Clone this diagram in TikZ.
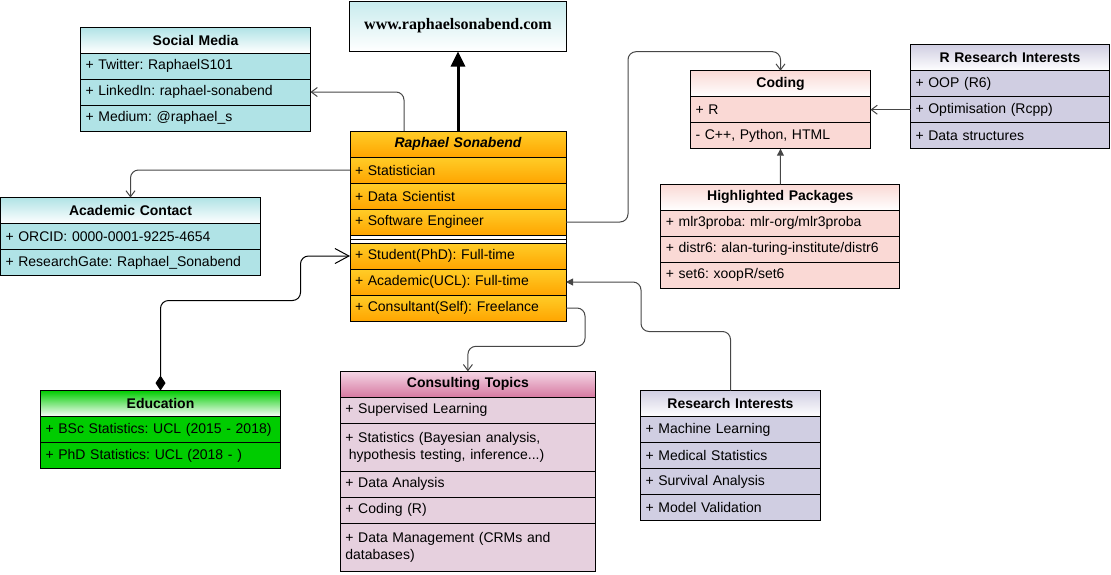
\documentclass[tikz,border=0pt]{standalone}
\usepackage{fontspec}
\setmainfont{Liberation Sans}
\newfontfamily\webfont{Liberation Serif}
\usetikzlibrary{positioning,arrows.meta}
\definecolor{tealc}{RGB}{176,227,230}
\definecolor{gold}{RGB}{255,205,40}
\definecolor{orangec}{RGB}{255,165,0}
\definecolor{pinkc}{RGB}{250,217,213}
\definecolor{lavc}{RGB}{208,206,226}
\definecolor{greenc}{RGB}{0,204,0}
\definecolor{consrow}{RGB}{230,208,222}
\definecolor{conslight}{RGB}{244,214,229}
\definecolor{consdark}{RGB}{214,120,160}
\definecolor{linkc}{RGB}{70,70,70}
\newcommand{\boxfont}{\fontsize{14}{16.5}\selectfont\frenchspacing}

\begin{document}
\begin{tikzpicture}[x=1pt, y=1pt,
    head/.style={rectangle, draw, line width=1pt, outer sep=0pt, inner xsep=5pt, inner ysep=2pt, minimum height=26pt, align=center, font=\boxfont\bfseries, top color=#1, bottom color=white},
    row/.style={rectangle, draw, line width=1pt, outer sep=0pt, inner xsep=5pt, inner ysep=2pt, minimum height=26pt, align=left, font=\boxfont, fill=#1},
    row/.default=white,
    orow/.style={row, top color=gold, bottom color=orangec},
    link/.style={draw=linkc, line width=1pt, rounded corners=8pt, -{Straight Barb[length=6pt, width=9pt]}},
    solid link/.style={draw=linkc, line width=1pt, rounded corners=8pt, -{Triangle[length=7pt, width=7pt]}},
    bold/.style={draw=black, line width=3pt, -{Triangle[length=15pt, width=14pt]}}]

\useasboundingbox (0,0) rectangle (1111,-574);

% website
\node[draw, line width=1pt, top color=tealc!70, bottom color=white, minimum width=217pt, minimum height=50pt, anchor=north west, font=\webfont\fontsize{16}{19}\selectfont\bfseries] (web) at (349,-0.5) {www.raphaelsonabend.com};

% social media
\begin{scope}[every node/.append style={text width=220pt}]
\node[head=tealc, anchor=north west] (social) at (80.5,-27) {Social Media};
\node[row=tealc, below=0pt of social] (social_tw) {+ Twitter: RaphaelS101};
\node[row=tealc, below=0pt of social_tw] (social_li) {+ LinkedIn: raphael-sonabend};
\node[row=tealc, below=0pt of social_li] (social_md) {+ Medium: @raphael\_s};
\end{scope}

% academic contact
\begin{scope}[every node/.append style={text width=250pt}]
\node[head=tealc, anchor=north west] (acad) at (0.5,-197.5) {Academic Contact};
\node[row=tealc, below=0pt of acad] (acad_orcid) {+ ORCID: 0000-0001-9225-4654};
\node[row=tealc, below=0pt of acad_orcid] (acad_rg) {+ ResearchGate: Raphael\_Sonabend};
\end{scope}

% raphael
\begin{scope}[every node/.append style={text width=206pt}]
\node[head=gold, bottom color=orangec, font=\boxfont\bfseries\itshape, anchor=north west] (raph) at (350,-131) {Raphael Sonabend};
\node[orow, below=0pt of raph] (raph_stat) {+ Statistician};
\node[orow, below=0pt of raph_stat] (raph_ds) {+ Data Scientist};
\node[orow, below=0pt of raph_ds] (raph_se) {+ Software Engineer};
\node[row, minimum height=8pt, inner ysep=0pt, text height=0pt, text depth=0pt, below=0pt of raph_se] (raph_sep) {};
\node[orow, below=0pt of raph_sep] (raph_stu) {+ Student(PhD): Full-time};
\node[orow, below=0pt of raph_stu] (raph_ac) {+ Academic(UCL): Full-time};
\node[orow, below=0pt of raph_ac] (raph_cs) {+ Consultant(Self): Freelance};
\end{scope}
\draw[line width=1pt] (raph_sep.west) -- (raph_sep.east);

% coding
\begin{scope}[every node/.append style={text width=170pt}]
\node[head=pinkc, anchor=north west] (coding) at (690.5,-70.7) {Coding};
\node[row=pinkc, below=0pt of coding] (coding_r) {+ R};
\node[row=pinkc, below=0pt of coding_r] (coding_cpp) {- C++, Python, HTML};
\end{scope}

% r research interests
\begin{scope}[every node/.append style={text width=189pt}]
\node[head=lavc, anchor=north west] (rres) at (910.5,-44.7) {R Research Interests};
\node[row=lavc, below=0pt of rres] (rres_oop) {+ OOP (R6)};
\node[row=lavc, below=0pt of rres_oop] (rres_opt) {+ Optimisation (Rcpp)};
\node[row=lavc, below=0pt of rres_opt] (rres_ds) {+ Data structures};
\end{scope}

% highlighted packages
\begin{scope}[every node/.append style={text width=229pt}]
\node[head=pinkc, anchor=north west] (pkgs) at (660.8,-184.3) {Highlighted Packages};
\node[row=pinkc, below=0pt of pkgs] (pkgs_mlr) {+ mlr3proba: mlr-org/mlr3proba};
\node[row=pinkc, below=0pt of pkgs_mlr] (pkgs_distr) {+ distr6: alan-turing-institute/distr6};
\node[row=pinkc, below=0pt of pkgs_distr] (pkgs_set) {+ set6: xoopR/set6};
\end{scope}

% education
\begin{scope}[every node/.append style={text width=230pt}]
\node[head=greenc, anchor=north west] (edu) at (40.5,-390.5) {Education};
\node[row=greenc, below=0pt of edu] (edu_bsc) {+ BSc Statistics: UCL (2015 - 2018)};
\node[row=greenc, below=0pt of edu_bsc] (edu_phd) {+ PhD Statistics: UCL (2018 - )};
\end{scope}

% consulting topics
\begin{scope}[every node/.append style={text width=245pt}]
\node[head=conslight, bottom color=consdark, anchor=north west] (cons) at (340.4,-371.3) {Consulting Topics};
\node[row=consrow, below=0pt of cons] (cons_sl) {+ Supervised Learning};
\node[row=consrow, minimum height=48pt, below=0pt of cons_sl] (cons_stat) {+ Statistics (Bayesian analysis,\\\hspace*{3.5pt}hypothesis testing, inference...)};
\node[row=consrow, below=0pt of cons_stat] (cons_da) {+ Data Analysis};
\node[row=consrow, below=0pt of cons_da] (cons_code) {+ Coding (R)};
\node[row=consrow, minimum height=48pt, below=0pt of cons_code] (cons_dm) {+ Data Management (CRMs and\\databases)};
\end{scope}

% research interests
\begin{scope}[every node/.append style={text width=170pt}]
\node[head=lavc, anchor=north west] (resi) at (640.5,-390.5) {Research Interests};
\node[row=lavc, below=0pt of resi] (resi_ml) {+ Machine Learning};
\node[row=lavc, below=0pt of resi_ml] (resi_med) {+ Medical Statistics};
\node[row=lavc, below=0pt of resi_med] (resi_surv) {+ Survival Analysis};
\node[row=lavc, below=0pt of resi_surv] (resi_mv) {+ Model Validation};
\end{scope}

% connectors
\draw[bold] (raph.north) -- (web.south);
\draw[link] ([xshift=-54pt]raph.north) |- (social_li.east);
\draw[link] (raph_stat.west) -| (acad.north);
\draw[link] (raph_se.east) -- ([xshift=62pt]raph_se.east) |- ([yshift=19pt]coding.north) -- (coding.north);
\draw[link] (rres_opt.west) -- (rres_opt.west -| coding_r.east);
\draw[solid link] (pkgs.north) -- (coding_cpp.south);
\draw[draw=black, line width=1pt, rounded corners=8pt, {Diamond[length=15pt, width=10pt]}-{Straight Barb[length=14pt, width=15pt]}] (edu.north) -- ++(0,90) -| ([xshift=-49.5pt]raph_stu.west) -- (raph_stu.west);
\draw[link] (raph_cs.east) -- ++(19,0) |- ([yshift=25pt]cons.north) -- (cons.north);
\draw[solid link] (resi.north) -- ++(0,59) -| ([xshift=75pt]raph_ac.east) -- (raph_ac.east);

\end{tikzpicture}
\end{document}
